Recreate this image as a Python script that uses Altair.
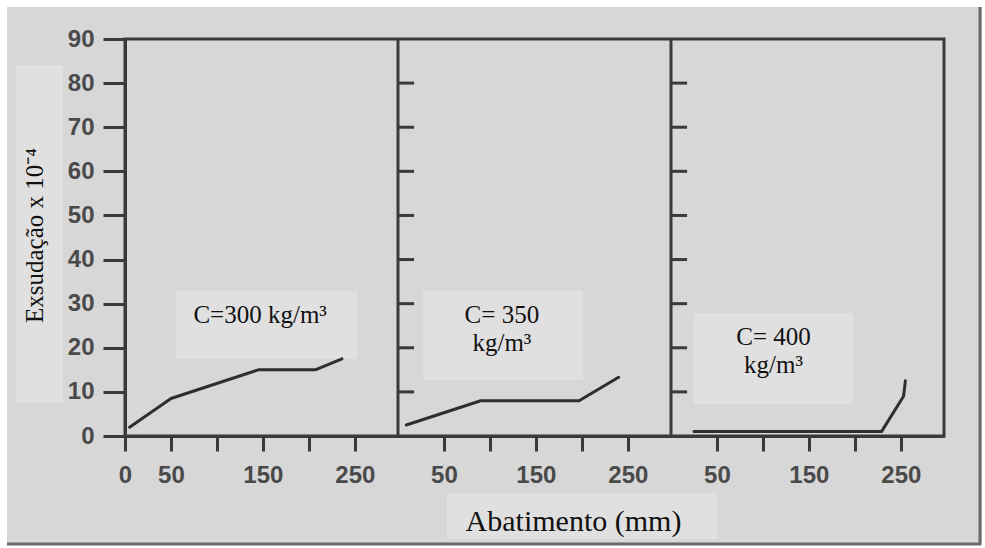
import altair as alt
import pandas as pd

# Bleeding (x 10^-4) against slump (mm) for three cement contents
slump_300 = [5, 50, 145, 207, 236]
bleed_300 = [2.0, 8.5, 15.0, 15.0, 17.5]

slump_350 = [9, 90, 197, 240]
bleed_350 = [2.5, 8.0, 8.0, 13.3]

slump_400 = [25, 229, 253, 255]
bleed_400 = [1.0, 1.0, 9.0, 12.5]

panel_text = [["C=300 kg/m³"], ["C= 350", "kg/m³"], ["C= 400", "kg/m³"]]

y_tick_values = [0, 10, 20, 30, 40, 50, 60, 70, 80, 90]
x_tick_values = [0, 50, 100, 150, 200, 250]
x_inner_ticks = [10, 20, 30, 40, 50, 60, 70, 80]

# ---- layout of the three side-by-side panels (shared y, own x range) ----
SPAN = 297            # x units per panel
N_PANELS = 3
W, H = 273 * N_PANELS, 397
INK = "#3a3a3a"
LABEL_INK = "#4a4a4a"
BG = "#d7d7d7"
PATCH = "#e0e0e0"

series = [(slump_300, bleed_300), (slump_350, bleed_350), (slump_400, bleed_400)]
rows = []
for p, (xs, ys) in enumerate(series):
    for i, (sx, by) in enumerate(zip(xs, ys)):
        rows.append({"panel": p, "i": i, "gx": sx + p * SPAN, "y": by})
curves = pd.DataFrame(rows)

# text placement inside each panel (panel-local x, y in data units)
text_pos = [[(147, 25.6)], [(113, 25.6), (113, 19.3)], [(111.5, 20.6), (111.5, 14.3)]]
labels = pd.DataFrame([
    {"gx": x + p * SPAN, "y": y, "txt": t}
    for p, (lines, pos) in enumerate(zip(panel_text, text_pos))
    for t, (x, y) in zip(lines, pos)
])

# light patches behind the panel labels and the axis titles
patches = pd.DataFrame([
    {"gx": 55.5, "gx2": 252.4, "y": 17.5, "y2": 32.9},
    {"gx": SPAN + 27.3, "gx2": SPAN + 201.4, "y": 12.7, "y2": 32.9},
    {"gx": 2 * SPAN + 25.2, "gx2": 2 * SPAN + 198.2, "y": 7.3, "y2": 27.9},
    {"gx": -119.0, "gx2": -67.4, "y": 7.5, "y2": 84.1},
    {"gx": 350.3, "gx2": 644.0, "y": -23.4, "y2": -12.9},
])

# panel separators and the short inward ticks on panels 2 and 3
dividers = pd.DataFrame({"gx": [SPAN * k for k in range(1, N_PANELS)]})
inner = pd.DataFrame([
    {"gx": SPAN * k, "gx2": SPAN * k + 17.5, "y": v}
    for k in range(1, N_PANELS) for v in x_inner_ticks
])

# sheet edge: white margins and the dark frame on the right / bottom (pixels)
margins = pd.DataFrame([
    {"px": -125, "px2": 860, "py": -39, "py2": -32},
    {"px": -125, "px2": -118, "py": -39, "py2": 509},
    {"px": 857, "px2": 860, "py": -39, "py2": 509},
    {"px": -125, "px2": 860, "py": 506, "py2": 509},
])
frame = pd.DataFrame([
    {"px": 855, "px2": 855, "py": -32, "py2": 506},
    {"px": -118, "px2": 856, "py": 505, "py2": 505},
])

all_x_ticks = [v + p * SPAN for p in range(N_PANELS) for v in x_tick_values if p == 0 or v > 0]

x_scale = alt.Scale(domain=[0, SPAN * N_PANELS], nice=False, zero=False)
y_scale = alt.Scale(domain=[0, 90], nice=False, zero=False)

x_axis = alt.Axis(
    values=all_x_ticks,
    labelExpr=f"(datum.value % {SPAN} == 100 || datum.value % {SPAN} == 200) ? '' : '' + (datum.value % {SPAN})",
    grid=False, tickSize=15, tickWidth=3, tickColor=INK,
    domainWidth=3, domainColor=INK, zindex=1,
    labelFont="Liberation Sans", labelFontWeight="bold", labelFontSize=24,
    labelColor=LABEL_INK, labelPadding=12, labelFlush=False, labelOverlap=False,
    title="Abatimento (mm)", titleFont="Liberation Serif", titleFontSize=30,
    titleFontWeight="normal", titleColor="#111111",
    titleX=448, titleY=94, titleAlign="center", titleBaseline="alphabetic",
)
y_axis = alt.Axis(
    values=y_tick_values, grid=False, tickSize=22, tickWidth=3, tickColor=INK,
    domainWidth=3, domainColor=INK, zindex=1,
    labelFont="Liberation Sans", labelFontWeight="bold", labelFontSize=24,
    labelColor=LABEL_INK, labelPadding=9, labelFlush=False,
    title="Exsudação x 10⁻⁴", titleFont="Liberation Serif", titleFontSize=25,
    titleFontWeight="normal", titleColor="#111111", titleAngle=270,
    titleX=-83, titleY=196, titleAlign="center", titleBaseline="alphabetic",
)


def X(field):
    return alt.X(f"{field}:Q", scale=x_scale, axis=x_axis)


def Y(field):
    return alt.Y(f"{field}:Q", scale=y_scale, axis=y_axis)


margin_layer = alt.Chart(margins).mark_rect(color="white").encode(
    x=alt.X("px:Q", scale=None), x2="px2:Q",
    y=alt.Y("py:Q", scale=None), y2="py2:Q",
)
frame_layer = alt.Chart(frame).mark_rule(color="#6a6a6a", strokeWidth=3).encode(
    x=alt.X("px:Q", scale=None), x2="px2:Q",
    y=alt.Y("py:Q", scale=None), y2="py2:Q",
)
patch_layer = alt.Chart(patches).mark_rect(color=PATCH).encode(
    x=X("gx"), x2="gx2:Q", y=Y("y"), y2="y2:Q",
)
divider_layer = alt.Chart(dividers).mark_rule(color=INK, strokeWidth=3).encode(
    x=X("gx"), y=alt.value(0), y2=alt.value(H),
)
inner_layer = alt.Chart(inner).mark_rule(color=INK, strokeWidth=3).encode(
    x=X("gx"), x2="gx2:Q", y=Y("y"),
)
curve_layer = alt.Chart(curves).mark_line(
    color="#2e2e2e", strokeWidth=3, strokeCap="round", strokeJoin="round"
).encode(
    x=X("gx"), y=Y("y"), detail="panel:N", order="i:Q",
)
label_layer = alt.Chart(labels).mark_text(
    font="Liberation Serif", fontSize=25, color="#111111",
    align="center", baseline="alphabetic",
).encode(
    x=X("gx"), y=Y("y"), text="txt:N",
)

chart = alt.layer(
    margin_layer, frame_layer, patch_layer, divider_layer,
    inner_layer, curve_layer, label_layer,
).properties(
    width=W, height=H,
    autosize=alt.AutoSizeParams(type="none"),
    padding={"left": 125, "top": 39, "right": 41, "bottom": 112},
).configure(
    background=BG,
).configure_view(
    stroke=INK, strokeWidth=3,
)

chart.save("out.html", embed_options={"renderer": "svg", "actions": False})
